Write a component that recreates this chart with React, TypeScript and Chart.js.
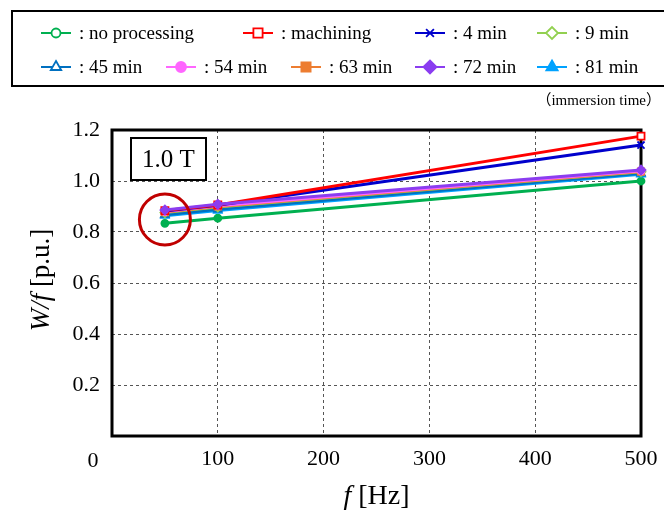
import React, { useEffect, useRef } from 'react';
import { Chart, registerables } from 'chart.js';
import { drawPoint } from 'chart.js/helpers';

Chart.register(...registerables);

// ---- data ----
const frequencies = [50, 100, 500];
const noProcessing = [0.834, 0.854, 1.0];
const machining = [0.884, 0.906, 1.176];
const min4 = [0.882, 0.905, 1.141];
const min9 = [0.876, 0.898, 1.036];
const min45 = [0.868, 0.889, 1.03];
const min54 = [0.88, 0.903, 1.04];
const min63 = [0.878, 0.9, 1.037];
const min72 = [0.886, 0.909, 1.043];
const min81 = [0.864, 0.884, 1.026];

const seriesLabels = [
  ': no processing',
  ': machining',
  ': 4 min',
  ': 9 min',
  ': 45 min',
  ': 54 min',
  ': 63 min',
  ': 72 min',
  ': 81 min',
];
const seriesValues = [noProcessing, machining, min4, min9, min45, min54, min63, min72, min81];

const xTickValues = [0, 100, 200, 300, 400, 500];
const yTickValues = [0, 0.2, 0.4, 0.6, 0.8, 1.0, 1.2];
const fluxLabel = '1.0 T';
const noteLabel = '（immersion time）';
const highlightFreq = 50;
const highlightValue = 0.849;

// ---- styles ----
const seriesStyles = [
  { color: '#00B050', point: 'circle', open: true, plotFill: true, r: 3.5, lr: 4.5, order: 8 },
  { color: '#FF0000', point: 'rect', open: true, r: 5, lr: 6.5, order: 1 },
  { color: '#0000CC', point: 'crossRot', open: false, r: 5, lr: 5.5, order: 2 },
  { color: '#92D050', point: 'rectRot', open: true, r: 4.5, lr: 6, order: 5 },
  { color: '#0070C0', point: 'triangle', open: true, r: 4.5, lr: 6, order: 6 },
  { color: '#FF66FF', point: 'circle', open: false, r: 3.5, lr: 5, order: 3 },
  { color: '#ED7D31', point: 'rect', open: false, r: 4.5, lr: 6.5, order: 4 },
  { color: '#8B3DF0', point: 'rectRot', open: false, r: 4.5, lr: 6.5, order: 0 },
  { color: '#00A2FF', point: 'triangle', open: false, r: 4.5, lr: 6.5, order: 7 },
];
const legendSlots = [
  [41, 33], [243, 33], [415, 33], [537, 33],
  [41, 67], [166, 67], [291, 67], [415, 67], [537, 67],
];

const SERIF = '"Liberation Serif", "Noto Sans CJK JP", serif';

const decorPlugin = {
  id: 'decor',
  beforeDatasetsDraw(chart: any) {
    const { ctx, chartArea } = chart;
    const { left, top, right, bottom } = chartArea;
    ctx.save();
    ctx.strokeStyle = '#000';
    ctx.lineWidth = 3;
    ctx.strokeRect(left, top, right - left, bottom - top);
    ctx.restore();
  },
  afterDatasetsDraw(chart: any) {
    const { ctx, chartArea, scales } = chart;
    ctx.save();
    // highlight circle
    const cx = scales.x.getPixelForValue(highlightFreq);
    const cy = scales.y.getPixelForValue(highlightValue);
    ctx.beginPath();
    ctx.arc(cx, cy, 25.5, 0, Math.PI * 2);
    ctx.strokeStyle = '#C00000';
    ctx.lineWidth = 3;
    ctx.stroke();
    // flux density box
    const bx = chartArea.left + 19;
    const by = chartArea.top + 8;
    const bw = 75;
    const bh = 42;
    ctx.fillStyle = '#fff';
    ctx.fillRect(bx, by, bw, bh);
    ctx.strokeStyle = '#000';
    ctx.lineWidth = 2;
    ctx.strokeRect(bx, by, bw, bh);
    ctx.fillStyle = '#000';
    ctx.font = `25px ${SERIF}`;
    ctx.textAlign = 'center';
    ctx.textBaseline = 'middle';
    ctx.fillText(fluxLabel, bx + bw / 2, by + bh / 2 + 1);
    ctx.restore();
  },
  afterDraw(chart: any) {
    const { ctx, chartArea } = chart;
    ctx.save();
    // legend box
    ctx.strokeStyle = '#000';
    ctx.lineWidth = 2;
    ctx.strokeRect(12, 11, 680, 75);
    ctx.font = `19px ${SERIF}`;
    ctx.textBaseline = 'middle';
    ctx.textAlign = 'left';
    chart.data.datasets.forEach((ds: any, i: number) => {
      const st = seriesStyles[i];
      const [lx, ly] = legendSlots[i];
      ctx.strokeStyle = st.color;
      ctx.lineWidth = 2;
      ctx.beginPath();
      ctx.moveTo(lx, ly);
      ctx.lineTo(lx + 30, ly);
      ctx.stroke();
      ctx.fillStyle = st.open ? '#fff' : st.color;
      ctx.strokeStyle = st.color;
      ctx.lineWidth = 1.8;
      drawPoint(ctx, { pointStyle: st.point, radius: st.lr, rotation: 0, borderWidth: 1.8 } as any, lx + 15, ly);
      ctx.fillStyle = '#000';
      ctx.fillText(ds.label, lx + 38, ly + 1);
    });
    // note
    ctx.font = `15px ${SERIF}`;
    ctx.textAlign = 'right';
    ctx.fillText(noteLabel, 661, 101);
    // corner zero label
    ctx.font = `22px ${SERIF}`;
    ctx.textAlign = 'center';
    ctx.fillText('0', 93, 461);
    // x title
    const xc = (chartArea.left + chartArea.right) / 2;
    ctx.font = `italic 28px ${SERIF}`;
    const wf = ctx.measureText('f').width;
    ctx.font = `28px ${SERIF}`;
    const wh = ctx.measureText(' [Hz]').width;
    const sx = xc - (wf + wh) / 2;
    ctx.textAlign = 'left';
    ctx.font = `italic 28px ${SERIF}`;
    ctx.fillText('f', sx, 497);
    ctx.font = `28px ${SERIF}`;
    ctx.fillText(' [Hz]', sx + wf, 497);
    // y title
    ctx.translate(42, 280);
    ctx.rotate(-Math.PI / 2);
    ctx.font = `italic 27px ${SERIF}`;
    const w1 = ctx.measureText('W/f').width;
    ctx.font = `27px ${SERIF}`;
    const w2 = ctx.measureText(' [p.u.]').width;
    const s2 = -(w1 + w2) / 2;
    ctx.font = `italic 27px ${SERIF}`;
    ctx.fillText('W/f', s2, 0);
    ctx.font = `27px ${SERIF}`;
    ctx.fillText(' [p.u.]', s2 + w1, 0);
    ctx.restore();
  },
};

export default function App() {
  const canvasRef = useRef<HTMLCanvasElement | null>(null);

  useEffect(() => {
    document.body.style.margin = '0';
    const canvas = canvasRef.current;
    if (!canvas) return;
    const datasets = seriesValues.map((vals, i) => {
      const st = seriesStyles[i];
      return {
        label: seriesLabels[i],
        data: frequencies.map((f, j) => ({ x: f, y: vals[j] })),
        borderColor: st.color,
        backgroundColor: st.color,
        borderWidth: 3,
        pointStyle: st.point,
        pointRadius: st.r,
        pointBorderWidth: 1.8,
        pointBorderColor: st.color,
        pointBackgroundColor: st.open && !st.plotFill ? '#fff' : st.color,
        tension: 0,
        clip: false,
        order: st.order,
      };
    });
    const chart = new Chart(canvas, {
      type: 'line',
      data: { datasets } as any,
      options: {
        responsive: false,
        animation: false,
        layout: { padding: { left: 0, top: 130, right: 23, bottom: 0 } },
        plugins: { legend: { display: false }, tooltip: { enabled: false }, title: { display: false } },
        scales: {
          x: {
            type: 'linear',
            min: 0,
            max: 500,
            afterBuildTicks: (s: any) => {
              s.ticks = xTickValues.map((v) => ({ value: v }));
            },
            afterFit: (s: any) => {
              s.height = 80;
              s.paddingLeft = 0;
              s.paddingRight = 0;
            },
            ticks: {
              color: '#000',
              font: { family: SERIF, size: 22 },
              padding: 10,
              maxRotation: 0,
              autoSkip: false,
              callback: (v: any) => (v === 0 ? '' : String(v)),
            },
            grid: {
              drawTicks: false,
              color: (c: any) => (c.tick && (c.tick.value === 0 || c.tick.value === 500) ? 'rgba(0,0,0,0)' : '#555'),
              lineWidth: 1,
            },
            border: { display: false, dash: [3, 3] },
          },
          y: {
            type: 'linear',
            min: 0,
            max: 1.2,
            afterBuildTicks: (s: any) => {
              s.ticks = yTickValues.map((v) => ({ value: v }));
            },
            afterFit: (s: any) => {
              s.width = 112;
              s.paddingTop = 0;
              s.paddingBottom = 0;
            },
            ticks: {
              color: '#000',
              font: { family: SERIF, size: 22 },
              padding: 12,
              autoSkip: false,
              callback: (v: any) => (v === 0 ? '' : Number(v).toFixed(1)),
            },
            grid: {
              drawTicks: false,
              color: (c: any) => (c.tick && (c.tick.value === 0 || c.tick.value === 1.2) ? 'rgba(0,0,0,0)' : '#555'),
              lineWidth: 1,
            },
            border: { display: false, dash: [3, 3] },
          },
        },
      } as any,
      plugins: [decorPlugin],
    });
    return () => chart.destroy();
  }, []);

  return <canvas ref={canvasRef} width={664} height={516} style={{ display: 'block' }} />;
}
